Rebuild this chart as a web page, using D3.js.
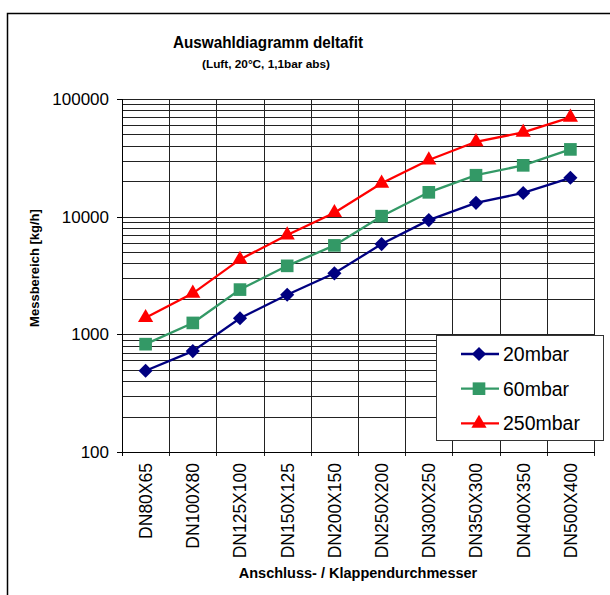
<!DOCTYPE html>
<html>
<head>
<meta charset="utf-8">
<script src="https://cdn.jsdelivr.net/npm/d3@7"></script>
<style>
  html, body { margin: 0; padding: 0; background: #fff; overflow: hidden; }
  svg { display: block; font-family: "Liberation Sans", Arial, sans-serif; }
</style>
</head>
<body>
<svg id="chart" width="610" height="595"></svg>
<script>
  // Data
  const categories = ["DN80X65", "DN100X80", "DN125X100", "DN150X125", "DN200X150",
                      "DN250X200", "DN300X250", "DN350X300", "DN400X350", "DN500X400"];
  const mbar20 = [490, 720, 1370, 2170, 3300, 5850, 9350, 13100, 15900, 21400];
  const mbar60 = [825, 1250, 2400, 3820, 5700, 10100, 16100, 22500, 27300, 37300];
  const mbar250 = [1385, 2230, 4330, 6980, 10800, 19200, 30300, 43300, 52000, 69800];
  const yTicks = [100, 1000, 10000, 100000];

  const series = [
    { name: "20mbar", values: mbar20, color: "#000080", marker: "diamond" },
    { name: "60mbar", values: mbar60, color: "#339966", marker: "square" },
    { name: "250mbar", values: mbar250, color: "#ff0000", marker: "triangle" }
  ];

  const LEFT = 122, RIGHT = 594, TOP = 99, BOTTOM = 452;

  const svg = d3.select("#chart");

  // outer chart frame, only top and left edges show (like the reference)
  svg.append("path")
    .attr("d", "M7.5,610V13.5H620")
    .attr("fill", "none").attr("stroke", "#000").attr("stroke-width", 1.5);

  const x = d3.scaleBand().domain(categories).range([LEFT, RIGHT]);
  const y = d3.scaleLog().domain([100, 100000]).range([BOTTOM, TOP]);

  // Minor + major horizontal gridlines
  let gridValues = [];
  for (let d = 100; d < 100000; d *= 10) {
    for (let k = 1; k < 10; k++) gridValues.push(d * k);
  }
  gridValues.push(100000);

  const grid = svg.append("g").attr("class", "grid");
  grid.selectAll("line.h").data(gridValues).enter().append("line")
    .attr("x1", LEFT).attr("x2", RIGHT)
    .attr("y1", (d) => Math.round(y(d)) + 0.5)
    .attr("y2", (d) => Math.round(y(d)) + 0.5)
    .attr("stroke", "#222").attr("stroke-width", 1);

  // vertical lines at category boundaries
  const bounds = categories.map((c) => x(c)).concat([RIGHT]);
  grid.selectAll("line.v").data(bounds.slice(1)).enter().append("line")
    .attr("x1", (d) => Math.round(d) + 0.5).attr("x2", (d) => Math.round(d) + 0.5)
    .attr("y1", TOP).attr("y2", BOTTOM + 4)
    .attr("stroke", "#222").attr("stroke-width", 1);

  // y axis
  const yAxis = svg.append("g");
  yAxis.append("line")
    .attr("x1", LEFT + 0.5).attr("x2", LEFT + 0.5)
    .attr("y1", TOP).attr("y2", BOTTOM + 1)
    .attr("stroke", "#000");
  yAxis.selectAll("line.tick").data(yTicks).enter().append("line")
    .attr("x1", LEFT - 5).attr("x2", LEFT)
    .attr("y1", (d) => Math.round(y(d)) + 0.5)
    .attr("y2", (d) => Math.round(y(d)) + 0.5)
    .attr("stroke", "#000");
  yAxis.selectAll("text").data(yTicks).enter().append("text")
    .attr("x", 109).attr("y", (d) => y(d))
    .attr("dy", "0.36em")
    .attr("text-anchor", "end")
    .attr("font-size", "17px")
    .text((d) => d);

  // x axis
  const xAxis = svg.append("g");
  xAxis.append("line")
    .attr("x1", LEFT).attr("x2", RIGHT + 1)
    .attr("y1", BOTTOM + 0.5).attr("y2", BOTTOM + 0.5)
    .attr("stroke", "#000");
  xAxis.append("line")
    .attr("x1", LEFT + 0.5).attr("x2", LEFT + 0.5)
    .attr("y1", BOTTOM).attr("y2", BOTTOM + 4)
    .attr("stroke", "#000");
  xAxis.selectAll("text").data(categories).enter().append("text")
    .attr("transform", (d) => `translate(${x(d) + x.bandwidth() / 2},463) rotate(-90)`)
    .attr("dy", "0.36em")
    .attr("text-anchor", "end")
    .attr("font-size", "17.5px")
    .text((d) => d);

  // series lines + markers
  const symbols = {
    diamond: d3.symbol().type(d3.symbolSquare).size(100),
    square: d3.symbol().type(d3.symbolSquare).size(160),
    triangle: d3.symbol().type(d3.symbolTriangle).size(100)
  };

  function drawMarker(sel, s) {
    sel.append("path")
      .attr("d", symbols[s.marker]())
      .attr("fill", s.color)
      .attr("transform", (d) => s.marker === "diamond" ? "rotate(45)" : null);
  }

  const line = d3.line()
    .x((d, i) => x(categories[i]) + x.bandwidth() / 2)
    .y((d) => y(d));

  series.forEach((s) => {
    const g = svg.append("g");
    g.append("path")
      .datum(s.values)
      .attr("d", line)
      .attr("fill", "none")
      .attr("stroke", s.color)
      .attr("stroke-width", 2.3);
    g.selectAll("g.m").data(s.values).enter().append("g")
      .attr("transform", (d, i) => `translate(${x(categories[i]) + x.bandwidth() / 2},${y(d)})`)
      .call(drawMarker, s);
  });

  // legend
  const legend = svg.append("g");
  legend.append("rect")
    .attr("x", 436.5).attr("y", 335.5)
    .attr("width", 167).attr("height", 105)
    .attr("fill", "#fff").attr("stroke", "#333").attr("stroke-width", 1);
  series.forEach((s, i) => {
    const ly = 354 + i * 34.7;
    const item = legend.append("g");
    item.append("line")
      .attr("x1", 461).attr("x2", 499)
      .attr("y1", ly).attr("y2", ly)
      .attr("stroke", s.color).attr("stroke-width", 2.3);
    item.append("g")
      .attr("transform", `translate(479,${ly})`)
      .datum(0)
      .call(drawMarker, s);
    item.append("text")
      .attr("x", 503).attr("y", ly)
      .attr("dy", "0.36em")
      .attr("font-size", "19.5px")
      .text(s.name);
  });

  // titles
  svg.append("text")
    .attr("x", 268).attr("y", 48)
    .attr("text-anchor", "middle")
    .attr("font-weight", "bold").attr("font-size", "17px")
    .attr("textLength", 190).attr("lengthAdjust", "spacingAndGlyphs")
    .text("Auswahldiagramm deltafit");
  svg.append("text")
    .attr("x", 266).attr("y", 68)
    .attr("text-anchor", "middle")
    .attr("font-weight", "bold").attr("font-size", "11.5px")
    .attr("textLength", 128).attr("lengthAdjust", "spacingAndGlyphs")
    .text("(Luft, 20°C, 1,1bar abs)");

  svg.append("text")
    .attr("x", 358).attr("y", 578)
    .attr("text-anchor", "middle")
    .attr("font-weight", "bold").attr("font-size", "14.5px")
    .text("Anschluss- / Klappendurchmesser");

  svg.append("text")
    .attr("transform", "translate(38.5,268) rotate(-90)")
    .attr("text-anchor", "middle")
    .attr("font-weight", "bold").attr("font-size", "13px")
    .text("Messbereich [kg/h]");
</script>
</body>
</html>
